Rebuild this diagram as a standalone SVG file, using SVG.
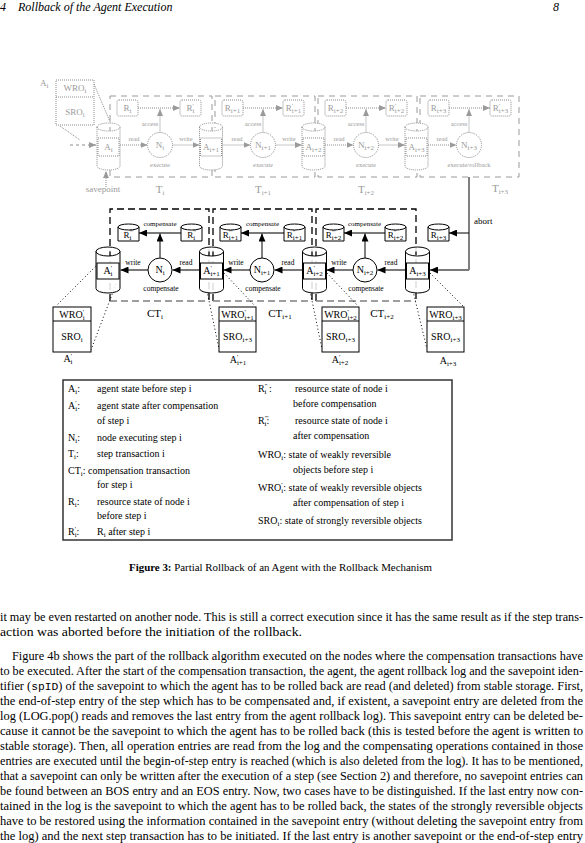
<svg xmlns="http://www.w3.org/2000/svg" width="585" height="843" viewBox="0 0 585 843" font-family="'Liberation Serif', 'Times New Roman', serif">
<defs>
<style>
text { font-family: "Liberation Serif", "Times New Roman", serif; }
.g { fill: #9a9a9a; }
.gs { fill: #fff; stroke: #8c8c8c; stroke-width: 1; stroke-dasharray: 1 1; }
.gl { fill: none; stroke: #8c8c8c; stroke-width: 1; stroke-dasharray: 1 1; }
.gdash { fill: none; stroke: #9a9a9a; stroke-width: 1; stroke-dasharray: 6 5; }
.bk { fill: #fff; stroke: #000; stroke-width: 1; }
.bl { fill: none; stroke: #000; stroke-width: 1; }
.gr { fill: none; stroke: #7a7a7a; stroke-width: 2; }
.dot { fill: none; stroke: #000; stroke-width: 1; stroke-dasharray: 1 2.5; }
.ct { fill: none; stroke: #000; stroke-width: 1.3; stroke-dasharray: 7 4; }
.ctb { fill: none; stroke: #808080; stroke-width: 1.3; stroke-dasharray: 7 4; }
.s7 { font-size: 7px; }
.body { font-size: 12px; }
</style>
<marker id="ab" viewBox="0 0 8 7" refX="8" refY="3.5" markerWidth="8" markerHeight="7" markerUnits="userSpaceOnUse" orient="auto"><path d="M0,0 L8,3.5 L0,7 Z" fill="#000"/></marker>
<marker id="ag" viewBox="0 0 7 6" refX="7" refY="3" markerWidth="7" markerHeight="6" markerUnits="userSpaceOnUse" orient="auto"><path d="M0,0 L7,3 L0,6 Z" fill="#9a9a9a"/></marker>
</defs>
<rect width="585" height="843" fill="#fff"/>

<!-- header -->
<text x="0" y="11" font-size="12" font-style="italic">4</text>
<text x="18" y="11" font-size="12" font-style="italic">Rollback of the Agent Execution</text>
<text x="553" y="11" font-size="12" font-style="italic">8</text>

<!-- ================= TOP (gray, faded) ================= -->
<g id="top-transactions">
<rect class="gdash" x="110" y="96" width="102" height="81"/>
<rect class="gdash" x="215" y="96" width="100" height="81"/>
<rect class="gdash" x="318" y="96" width="99" height="81"/>
<rect class="gdash" x="420" y="96" width="99" height="81"/>
</g>

<g id="top-wro">
<rect class="gs" x="56" y="80" width="38" height="45"/>
<line class="gl" x1="56" y1="97" x2="94" y2="97"/>
<text class="g" x="75" y="91" font-size="9" text-anchor="middle">WRO<tspan class="s7" dy="2">i</tspan></text>
<text class="g" x="75" y="115" font-size="9" text-anchor="middle">SRO<tspan class="s7" dy="2">i</tspan></text>
<text class="g" x="40" y="86" font-size="9">A<tspan class="s7" dy="2">i</tspan></text>
</g>

<g id="top-connectors">
<line class="gl" x1="94" y1="84" x2="111" y2="124"/>
<line class="gl" x1="60" y1="126" x2="80" y2="140"/>
<line x1="70" y1="145" x2="96" y2="145" stroke="#8c8c8c" stroke-dasharray="3 3" marker-end="url(#ag)"/>
<line class="gl" x1="106" y1="187" x2="106" y2="171" marker-end="url(#ag)"/>
<line class="gl" x1="120" y1="145" x2="147.5" y2="145" marker-end="url(#ag)"/>
<line class="gl" x1="172.5" y1="145" x2="199.5" y2="145" marker-end="url(#ag)"/>
<line class="gl" x1="222.5" y1="145" x2="250.5" y2="145" marker-end="url(#ag)"/>
<line class="gl" x1="275.5" y1="145" x2="302" y2="145" marker-end="url(#ag)"/>
<line class="gl" x1="325" y1="145" x2="353.5" y2="145" marker-end="url(#ag)"/>
<line class="gl" x1="378.5" y1="145" x2="405" y2="145" marker-end="url(#ag)"/>
<line class="gl" x1="428" y1="145" x2="456.5" y2="145" marker-end="url(#ag)"/>
<line class="gl" x1="138" y1="108" x2="180" y2="108" marker-end="url(#ag)"/>
<line class="gl" x1="243" y1="108" x2="283" y2="108" marker-end="url(#ag)"/>
<line class="gl" x1="346" y1="108" x2="386" y2="108" marker-end="url(#ag)"/>
<line class="gl" x1="449" y1="108" x2="490" y2="108" marker-end="url(#ag)"/>
<line class="gl" x1="160" y1="132.5" x2="160" y2="109" marker-end="url(#ag)"/>
<line class="gl" x1="263" y1="132.5" x2="263" y2="109" marker-end="url(#ag)"/>
<line class="gl" x1="366" y1="132.5" x2="366" y2="109" marker-end="url(#ag)"/>
<line class="gl" x1="469" y1="132.5" x2="469" y2="109" marker-end="url(#ag)"/>
</g>

<g id="top-A">
<path class="gs" d="M97,127 A11.5,4 0 0 1 120,127 V166 A11.5,4 0 0 1 97,166 Z M97,127 A11.5,4 0 0 0 120,127"/>
<rect class="gs" x="98" y="138" width="21" height="18"/>
<text class="g" x="108.5" y="150" font-size="9" text-anchor="middle">A<tspan class="s7" dy="2">i</tspan></text>
<path class="gs" d="M199.5,127 A11.5,4 0 0 1 222.5,127 V166 A11.5,4 0 0 1 199.5,166 Z M199.5,127 A11.5,4 0 0 0 222.5,127"/>
<rect class="gs" x="200.5" y="138" width="21" height="18"/>
<text class="g" x="211" y="150" font-size="9" text-anchor="middle">A<tspan class="s7" dy="2">i+1</tspan></text>
<path class="gs" d="M302,127 A11.5,4 0 0 1 325,127 V166 A11.5,4 0 0 1 302,166 Z M302,127 A11.5,4 0 0 0 325,127"/>
<rect class="gs" x="303" y="138" width="21" height="18"/>
<text class="g" x="313.5" y="150" font-size="9" text-anchor="middle">A<tspan class="s7" dy="2">i+2</tspan></text>
<path class="gs" d="M405,127 A11.5,4 0 0 1 428,127 V166 A11.5,4 0 0 1 405,166 Z M405,127 A11.5,4 0 0 0 428,127"/>
<rect class="gs" x="406" y="138" width="21" height="18"/>
<text class="g" x="416.5" y="150" font-size="9" text-anchor="middle">A<tspan class="s7" dy="2">i+3</tspan></text>
</g>

<g id="top-R">
<rect class="gs" x="117" y="100" width="21" height="16" rx="2"/>
<text class="g" x="127.5" y="111" font-size="9" text-anchor="middle">R<tspan class="s7" dy="2">i</tspan></text>
<rect class="gs" x="180" y="100" width="21" height="16" rx="2"/>
<text class="g" x="190.5" y="111" font-size="9" text-anchor="middle">R<tspan class="s7" dy="-3">'</tspan><tspan class="s7" dx="-1.3" dy="5">i</tspan></text>
<rect class="gs" x="222" y="100" width="21" height="16" rx="2"/>
<text class="g" x="232.5" y="111" font-size="9" text-anchor="middle">R<tspan class="s7" dy="2">i+1</tspan></text>
<rect class="gs" x="283" y="100" width="21" height="16" rx="2"/>
<text class="g" x="293.5" y="111" font-size="9" text-anchor="middle">R<tspan class="s7" dy="-3">'</tspan><tspan class="s7" dx="-1.3" dy="5">i+1</tspan></text>
<rect class="gs" x="325" y="100" width="21" height="16" rx="2"/>
<text class="g" x="335.5" y="111" font-size="9" text-anchor="middle">R<tspan class="s7" dy="2">i+2</tspan></text>
<rect class="gs" x="386" y="100" width="21" height="16" rx="2"/>
<text class="g" x="396.5" y="111" font-size="9" text-anchor="middle">R<tspan class="s7" dy="-3">'</tspan><tspan class="s7" dx="-1.3" dy="5">i+2</tspan></text>
<rect class="gs" x="428" y="100" width="21" height="16" rx="2"/>
<text class="g" x="438.5" y="111" font-size="9" text-anchor="middle">R<tspan class="s7" dy="2">i+3</tspan></text>
<rect class="gs" x="490" y="100" width="21" height="16" rx="2"/>
<text class="g" x="500.5" y="111" font-size="9" text-anchor="middle">R<tspan class="s7" dy="-3">'</tspan><tspan class="s7" dx="-1.3" dy="5">i+3</tspan></text>
</g>

<g id="top-N">
<circle class="gs" cx="160" cy="145" r="12.5"/>
<text class="g" x="160" y="148" font-size="9" text-anchor="middle">N<tspan class="s7" dy="2">i</tspan></text>
<circle class="gs" cx="263" cy="145" r="12.5"/>
<text class="g" x="263" y="148" font-size="9" text-anchor="middle">N<tspan class="s7" dy="2">i+1</tspan></text>
<circle class="gs" cx="366" cy="145" r="12.5"/>
<text class="g" x="366" y="148" font-size="9" text-anchor="middle">N<tspan class="s7" dy="2">i+2</tspan></text>
<circle class="gs" cx="469" cy="145" r="12.5"/>
<text class="g" x="469" y="148" font-size="9" text-anchor="middle">N<tspan class="s7" dy="2">i+3</tspan></text>
</g>

<g id="top-labels" class="g" font-size="6.5" text-anchor="middle">
<text x="134" y="141">read</text><text x="186" y="141">write</text>
<text x="237" y="141">read</text><text x="289" y="141">write</text>
<text x="339" y="141">read</text><text x="392" y="141">write</text>
<text x="442" y="141">read</text>
<text x="150" y="126">access</text><text x="253" y="126">access</text>
<text x="356" y="126">access</text><text x="459" y="126">access</text>
<text x="160" y="167">execute</text><text x="263" y="167">execute</text>
<text x="366" y="167">execute</text><text x="469" y="167">execute/rollback</text>
</g>
<g id="top-T" class="g" font-size="11" text-anchor="middle">
<text x="103" y="192" font-size="9">savepoint</text>
<text x="160" y="193">T<tspan class="s7" dy="2">i</tspan></text>
<text x="263" y="193">T<tspan class="s7" dy="2">i+1</tspan></text>
<text x="366" y="193">T<tspan class="s7" dy="2">i+2</tspan></text>
<text x="500" y="192">T<tspan class="s7" dy="2">i+3</tspan></text>
</g>

<!-- ================= MIDDLE (compensation) ================= -->
<g id="ct-boxes">
<path class="ct" d="M110,301 V209 H209 V301"/><line class="ctb" x1="110" y1="301" x2="209" y2="301"/>
<path class="ct" d="M213,301 V209 H312 V301"/><line class="ctb" x1="213" y1="301" x2="312" y2="301"/>
<path class="ct" d="M316,301 V209 H416 V301"/><line class="ctb" x1="316" y1="301" x2="416" y2="301"/>
</g>

<g id="connectors">
<polyline class="bl" stroke-width="1.3" points="469,177 469,270"/>
<line class="gr" x1="469" y1="270" x2="430" y2="270" marker-end="url(#ab)"/>
<line class="bl" stroke-width="1.3" x1="469" y1="233" x2="449" y2="233" marker-end="url(#ab)"/>
<line class="gr" x1="148" y1="270" x2="120.5" y2="270" marker-end="url(#ab)"/>
<line class="gr" x1="199.5" y1="270" x2="172.5" y2="270" marker-end="url(#ab)"/>
<line class="gr" x1="250" y1="270" x2="223.5" y2="270" marker-end="url(#ab)"/>
<line class="gr" x1="302.5" y1="270" x2="274.5" y2="270" marker-end="url(#ab)"/>
<line class="gr" x1="353" y1="270" x2="326.5" y2="270" marker-end="url(#ab)"/>
<line class="gr" x1="405.5" y1="270" x2="377.5" y2="270" marker-end="url(#ab)"/>
<line class="gr" x1="181" y1="233" x2="139" y2="233" marker-end="url(#ab)"/>
<line class="gr" x1="284" y1="233" x2="241" y2="233" marker-end="url(#ab)"/>
<line class="gr" x1="385" y1="233" x2="344" y2="233" marker-end="url(#ab)"/>
<line class="bl" x1="160" y1="258" x2="160" y2="233.5" marker-end="url(#ab)"/>
<line class="bl" x1="262" y1="258" x2="262" y2="233.5" marker-end="url(#ab)"/>
<line class="bl" x1="365" y1="258" x2="365" y2="233.5" marker-end="url(#ab)"/>
<line class="dot" x1="98" y1="264" x2="56" y2="306"/>
<line class="dot" x1="116" y1="284" x2="91" y2="350"/>
<line class="dot" x1="224" y1="273" x2="255" y2="306"/>
<line class="dot" x1="207" y1="291" x2="219" y2="349"/>
<line class="dot" x1="327" y1="273" x2="358" y2="306"/>
<line class="dot" x1="310" y1="291" x2="322" y2="349"/>
<line class="dot" x1="430" y1="273" x2="463" y2="306"/>
<line class="dot" x1="413" y1="291" x2="427" y2="349"/>
</g>

<g id="A-prime-i">
<path class="bk" d="M96,251.5 A12,4.5 0 0 1 120,251.5 V288.5 A12,4.5 0 0 1 96,288.5 Z M96,251.5 A12,4.5 0 0 0 120,251.5" fill-opacity="0.85"/>
<rect class="bk" x="97" y="263" width="22" height="16"/>
<text x="108" y="274" font-size="10" text-anchor="middle">A<tspan class="s7" dy="-4">'</tspan><tspan class="s7" dx="-1.3" dy="6">i</tspan></text>
</g>
<g id="A-prime-i1">
<path class="bk" d="M199.5,251.5 A12,4.5 0 0 1 223.5,251.5 V288.5 A12,4.5 0 0 1 199.5,288.5 Z M199.5,251.5 A12,4.5 0 0 0 223.5,251.5" fill-opacity="0.85"/>
<rect class="bk" x="200.5" y="263" width="22" height="16"/>
<text x="211.5" y="274" font-size="10" text-anchor="middle">A<tspan class="s7" dy="-4">'</tspan><tspan class="s7" dx="-1.3" dy="6">i+1</tspan></text>
</g>
<g id="A-prime-i2">
<path class="bk" d="M302.5,251.5 A12,4.5 0 0 1 326.5,251.5 V288.5 A12,4.5 0 0 1 302.5,288.5 Z M302.5,251.5 A12,4.5 0 0 0 326.5,251.5" fill-opacity="0.85"/>
<rect class="bk" x="303.5" y="263" width="22" height="16"/>
<text x="314.5" y="274" font-size="10" text-anchor="middle">A<tspan class="s7" dy="-4">'</tspan><tspan class="s7" dx="-1.3" dy="6">i+2</tspan></text>
</g>
<g id="A-i3">
<path class="bk" d="M405.5,251.5 A12,4.5 0 0 1 429.5,251.5 V288.5 A12,4.5 0 0 1 405.5,288.5 Z M405.5,251.5 A12,4.5 0 0 0 429.5,251.5" fill-opacity="0.85"/>
<rect class="bk" x="406.5" y="263" width="22" height="16"/>
<text x="417.5" y="274" font-size="10" text-anchor="middle">A<tspan class="s7" dy="2">i+3</tspan></text>
</g>

<g id="N-i"><circle class="bk" cx="160" cy="270" r="12"/><text x="160" y="273" font-size="10" text-anchor="middle">N<tspan class="s7" dy="2">i</tspan></text></g>
<g id="N-i1"><circle class="bk" cx="262" cy="270" r="12"/><text x="262" y="273" font-size="10" text-anchor="middle">N<tspan class="s7" dy="2">i+1</tspan></text></g>
<g id="N-i2"><circle class="bk" cx="365" cy="270" r="12"/><text x="365" y="273" font-size="10" text-anchor="middle">N<tspan class="s7" dy="2">i+2</tspan></text></g>

<g id="R-nodes" font-size="9" text-anchor="middle">
<path class="bk" d="M118,227 A10.5,3 0 0 1 139,227 V241 H118 Z M118,227 A10.5,3 0 0 0 139,227"/>
<text x="128.5" y="237.5">R<tspan class="s7" dy="-4">'''</tspan><tspan class="s7" dx="-3.9" dy="6">i</tspan></text>
<path class="bk" d="M181,227 A10.5,3 0 0 1 202,227 V241 H181 Z M181,227 A10.5,3 0 0 0 202,227"/>
<text x="191.5" y="237.5">R<tspan class="s7" dy="-4">''</tspan><tspan class="s7" dx="-2.6" dy="6">i</tspan></text>
<path class="bk" d="M220,227 A10.5,3 0 0 1 241,227 V241 H220 Z M220,227 A10.5,3 0 0 0 241,227"/>
<text x="230.5" y="237.5">R<tspan class="s7" dy="-4">'''</tspan><tspan class="s7" dx="-3.9" dy="6">i+1</tspan></text>
<path class="bk" d="M284,227 A10.5,3 0 0 1 305,227 V241 H284 Z M284,227 A10.5,3 0 0 0 305,227"/>
<text x="294.5" y="237.5">R<tspan class="s7" dy="-4">''</tspan><tspan class="s7" dx="-2.6" dy="6">i+1</tspan></text>
<path class="bk" d="M323,227 A10.5,3 0 0 1 344,227 V241 H323 Z M323,227 A10.5,3 0 0 0 344,227"/>
<text x="333.5" y="237.5">R<tspan class="s7" dy="-4">'''</tspan><tspan class="s7" dx="-3.9" dy="6">i+2</tspan></text>
<path class="bk" d="M385,227 A10.5,3 0 0 1 406,227 V241 H385 Z M385,227 A10.5,3 0 0 0 406,227"/>
<text x="395.5" y="237.5">R<tspan class="s7" dy="-4">''</tspan><tspan class="s7" dx="-2.6" dy="6">i+2</tspan></text>
<path class="bk" d="M428,227 A10.5,3 0 0 1 449,227 V241 H428 Z M428,227 A10.5,3 0 0 0 449,227"/>
<text x="438.5" y="237.5">R<tspan class="s7" dy="2">i+3</tspan></text>
</g>

<g id="mid-labels" font-size="7.5" text-anchor="middle">
<text x="160" y="226" font-size="7">compensate</text><text x="262.5" y="226" font-size="7">compensate</text><text x="364.5" y="226" font-size="7">compensate</text>
<text x="133" y="265">write</text><text x="186" y="265">read</text>
<text x="236" y="265">write</text><text x="288" y="265">read</text>
<text x="339" y="265">write</text><text x="391" y="265">read</text>
<text x="161" y="291">compensate</text><text x="263" y="291">compensate</text><text x="366" y="291">compensate</text>
<text x="474" y="224" font-size="9" text-anchor="start">abort</text>
</g>
<g id="CT-labels" font-size="11" text-anchor="middle">
<text x="155" y="317">CT<tspan class="s7" dy="2">i</tspan></text>
<text x="280" y="317">CT<tspan class="s7" dy="2">i+1</tspan></text>
<text x="382" y="317">CT<tspan class="s7" dy="2">i+2</tspan></text>
</g>

<g id="state-i" font-size="10" text-anchor="middle">
<rect class="bk" x="53" y="307" width="38" height="45"/><line class="bl" x1="53" y1="321" x2="91" y2="321"/>
<text x="72" y="318">WRO<tspan class="s7" dy="-4">'</tspan><tspan class="s7" dx="-1.3" dy="6">i</tspan></text>
<text x="72" y="340">SRO<tspan class="s7" dy="2">i</tspan></text>
<text x="68" y="362">A<tspan class="s7" dy="-4">'</tspan><tspan class="s7" dx="-1.3" dy="6">i</tspan></text>
</g>
<g id="state-i1" font-size="10" text-anchor="middle">
<rect class="bk" x="219" y="307" width="37" height="45"/><line class="bl" x1="219" y1="321" x2="256" y2="321"/>
<text x="237.5" y="318">WRO<tspan class="s7" dy="-4">'</tspan><tspan class="s7" dx="-1.3" dy="6">i+1</tspan></text>
<text x="237.5" y="340">SRO<tspan class="s7" dy="2">i+3</tspan></text>
<text x="238" y="363">A<tspan class="s7" dy="-4">'</tspan><tspan class="s7" dx="-1.3" dy="6">i+1</tspan></text>
</g>
<g id="state-i2" font-size="10" text-anchor="middle">
<rect class="bk" x="322" y="307" width="37" height="45"/><line class="bl" x1="322" y1="321" x2="359" y2="321"/>
<text x="340.5" y="318">WRO<tspan class="s7" dy="-4">'</tspan><tspan class="s7" dx="-1.3" dy="6">i+2</tspan></text>
<text x="340.5" y="340">SRO<tspan class="s7" dy="2">i+3</tspan></text>
<text x="340" y="363">A<tspan class="s7" dy="-4">'</tspan><tspan class="s7" dx="-1.3" dy="6">i+2</tspan></text>
</g>
<g id="state-i3" font-size="10" text-anchor="middle">
<rect class="bk" x="427" y="307" width="37" height="45"/><line class="bl" x1="427" y1="321" x2="464" y2="321"/>
<text x="445.5" y="318">WRO<tspan class="s7" dy="2">i+3</tspan></text>
<text x="445.5" y="340">SRO<tspan class="s7" dy="2">i+3</tspan></text>
<text x="448" y="364">A<tspan class="s7" dy="2">i+3</tspan></text>
</g>

<!-- ================= LEGEND ================= -->
<g id="legend" font-size="10">
<rect x="63" y="380" width="389" height="160" fill="#fff" stroke="#333" stroke-width="1.5"/>
<text x="68" y="392">A<tspan class="s7" dy="2">i</tspan><tspan dy="-2">:</tspan></text><text x="97" y="392">agent state before step i</text>
<text x="68" y="409">A<tspan class="s7" dy="-4">'</tspan><tspan class="s7" dx="-1.3" dy="6">i</tspan><tspan dy="-2">:</tspan></text><text x="97" y="409">agent state after compensation</text>
<text x="97" y="424">of step i</text>
<text x="68" y="441">N<tspan class="s7" dy="2">i</tspan><tspan dy="-2">:</tspan></text><text x="97" y="441">node executing step i</text>
<text x="68" y="457">T<tspan class="s7" dy="2">i</tspan><tspan dy="-2">:</tspan></text><text x="97" y="457">step transaction i</text>
<text x="68" y="474">CT<tspan class="s7" dy="2">i</tspan><tspan dy="-2">: compensation transaction</tspan></text>
<text x="97" y="488">for step i</text>
<text x="68" y="505">R<tspan class="s7" dy="2">i</tspan><tspan dy="-2">:</tspan></text><text x="97" y="505">resource state of node i</text>
<text x="97" y="519">before step i</text>
<text x="68" y="535">R<tspan class="s7" dy="-4">'</tspan><tspan class="s7" dx="-1.3" dy="6">i</tspan><tspan dy="-2">:</tspan></text><text x="97" y="535">R<tspan class="s7" dy="2">i</tspan><tspan dy="-2"> after step i</tspan></text>

<text x="258" y="392">R<tspan class="s7" dy="-4">''</tspan><tspan class="s7" dx="-2.6" dy="6">i</tspan><tspan dy="-2"> :</tspan></text><text x="295" y="392">resource state of node i</text>
<text x="293" y="407">before compensation</text>
<text x="258" y="424">R<tspan class="s7" dy="-4">'''</tspan><tspan class="s7" dx="-3.9" dy="6">i</tspan><tspan dy="-2">:</tspan></text><text x="295" y="424">resource state of node i</text>
<text x="293" y="439">after compensation</text>
<text x="258" y="458">WRO<tspan class="s7" dy="2">i</tspan><tspan dy="-2">: state of weakly reversible</tspan></text>
<text x="293" y="473">objects before step i</text>
<text x="258" y="491">WRO<tspan class="s7" dy="-4">'</tspan><tspan class="s7" dx="-1.3" dy="6">i</tspan><tspan dy="-2">: state of weakly reversible objects</tspan></text>
<text x="293" y="506">after compensation of step i</text>
<text x="258" y="524">SRO<tspan class="s7" dy="2">i</tspan><tspan dy="-2">:   state of strongly reversible objects</tspan></text>
</g>

<!-- caption -->
<text x="129" y="571" font-size="11" textLength="303" lengthAdjust="spacingAndGlyphs"><tspan font-weight="bold">Figure 3:</tspan> Partial Rollback of an Agent with the Rollback Mechanism</text>

<!-- body text -->
<g class="body">
<text x="0" y="621" textLength="583" lengthAdjust="spacingAndGlyphs">it may be even restarted on another node. This is still a correct execution since it has the same result as if the step trans-</text>
<text x="0" y="636" textLength="302" lengthAdjust="spacingAndGlyphs">action was aborted before the initiation of the rollback.</text>
<text x="12" y="660" textLength="571" lengthAdjust="spacingAndGlyphs">Figure 4b shows the part of the rollback algorithm executed on the nodes where the compensation transactions have</text>
<text x="0" y="675" textLength="583" lengthAdjust="spacingAndGlyphs">to be executed. After the start of the compensation transaction, the agent, the agent rollback log and the savepoint iden-</text>
<text x="0" y="690" textLength="583" lengthAdjust="spacingAndGlyphs">tifier (<tspan font-family="'Liberation Mono', 'Courier New', monospace" font-size="11">spID</tspan>) of the savepoint to which the agent has to be rolled back are read (and deleted) from stable storage. First,</text>
<text x="0" y="705" textLength="583" lengthAdjust="spacingAndGlyphs">the end-of-step entry of the step which has to be compensated and, if existent, a savepoint entry are deleted from the</text>
<text x="0" y="720" textLength="583" lengthAdjust="spacingAndGlyphs">log (LOG.pop() reads and removes the last entry from the agent rollback log). This savepoint entry can be deleted be-</text>
<text x="0" y="735" textLength="583" lengthAdjust="spacingAndGlyphs">cause it cannot be the savepoint to which the agent has to be rolled back (this is tested before the agent is written to</text>
<text x="0" y="750" textLength="583" lengthAdjust="spacingAndGlyphs">stable storage). Then, all operation entries are read from the log and the compensating operations contained in those</text>
<text x="0" y="765" textLength="583" lengthAdjust="spacingAndGlyphs">entries are executed until the begin-of-step entry is reached (which is also deleted from the log). It has to be mentioned,</text>
<text x="0" y="780" textLength="583" lengthAdjust="spacingAndGlyphs">that a savepoint can only be written after the execution of a step (see Section 2) and therefore, no savepoint entries can</text>
<text x="0" y="795" textLength="583" lengthAdjust="spacingAndGlyphs">be found between an BOS entry and an EOS entry. Now, two cases have to be distinguished. If the last entry now con-</text>
<text x="0" y="810" textLength="583" lengthAdjust="spacingAndGlyphs">tained in the log is the savepoint to which the agent has to be rolled back, the states of the strongly reversible objects</text>
<text x="0" y="825" textLength="583" lengthAdjust="spacingAndGlyphs">have to be restored using the information contained in the savepoint entry (without deleting the savepoint entry from</text>
<text x="0" y="840" textLength="583" lengthAdjust="spacingAndGlyphs">the log) and the next step transaction has to be initiated. If the last entry is another savepoint or the end-of-step entry</text>
</g>
</svg>
